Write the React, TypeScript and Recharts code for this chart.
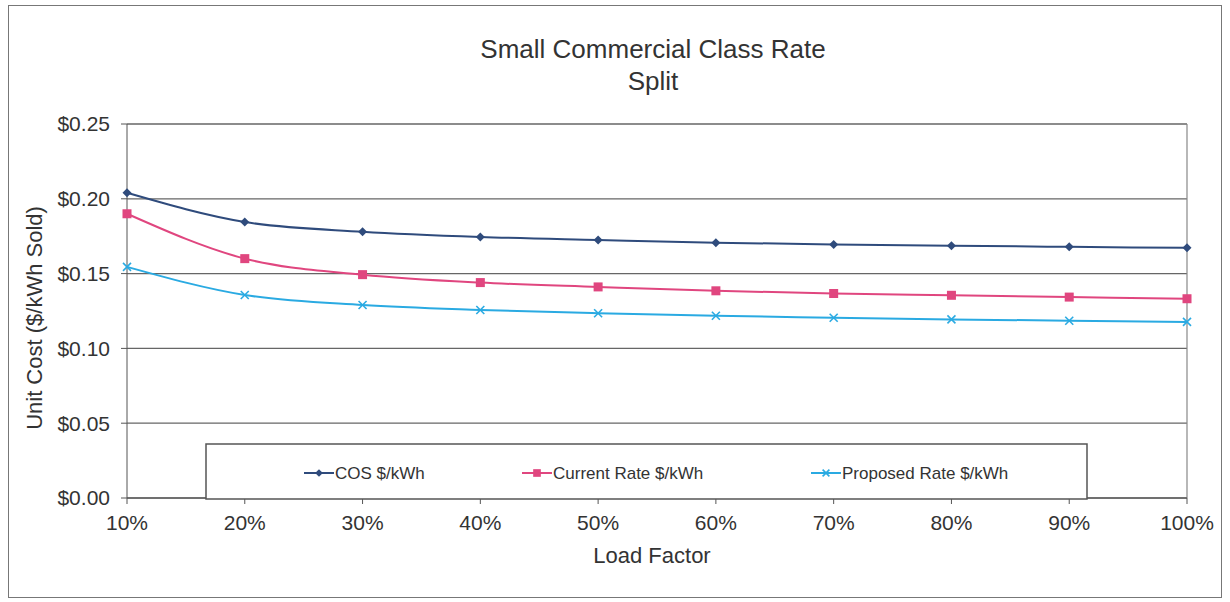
import React from "react";
import { CartesianGrid, Line, LineChart, ReferenceLine, XAxis, YAxis } from "recharts";

const loadFactors = ["10%", "20%", "30%", "40%", "50%", "60%", "70%", "80%", "90%", "100%"];
const cosRate = [0.204, 0.1845, 0.178, 0.1745, 0.1725, 0.1707, 0.1695, 0.1686, 0.1679, 0.1672];
const currentRate = [0.19, 0.16, 0.1493, 0.144, 0.1411, 0.1385, 0.1367, 0.1355, 0.1343, 0.1332];
const proposedRate = [0.1545, 0.1357, 0.129, 0.1257, 0.1235, 0.1218, 0.1205, 0.1194, 0.1185, 0.1177];
const yTicks = [0, 0.05, 0.1, 0.15, 0.2, 0.25];

const data = loadFactors.map((lf, i) => ({
  lf,
  cos: cosRate[i],
  current: currentRate[i],
  proposed: proposedRate[i],
}));

const FONT = "'Liberation Sans', Arial, sans-serif";
const TEXT = "#333";

type Marker = "diamond" | "square" | "cross";

const series: { key: string; name: string; color: string; marker: Marker }[] = [
  { key: "cos", name: "COS $/kWh", color: "#2f4b7c", marker: "diamond" },
  { key: "current", name: "Current Rate $/kWh", color: "#e0467f", marker: "square" },
  { key: "proposed", name: "Proposed Rate $/kWh", color: "#2aaae2", marker: "cross" },
];

function markerShape(marker: Marker, color: string, cx: number, cy: number, s = 1) {
  if (marker === "diamond") {
    const r = 4.5 * s;
    return <polygon points={`${cx},${cy - r} ${cx + r},${cy} ${cx},${cy + r} ${cx - r},${cy}`} fill={color} />;
  }
  if (marker === "square") {
    const r = 4.5 * s;
    return <rect x={cx - r} y={cy - r} width={r * 2} height={r * 2} fill={color} />;
  }
  const r = 4 * s;
  return (
    <g stroke={color} strokeWidth={1.6}>
      <line x1={cx - r} y1={cy - r} x2={cx + r} y2={cy + r} />
      <line x1={cx - r} y1={cy + r} x2={cx + r} y2={cy - r} />
    </g>
  );
}

const makeDot = (marker: Marker, color: string) => (props: any) => {
  const { cx, cy, index } = props;
  if (cx == null || cy == null) return <g key={index} />;
  return <g key={index}>{markerShape(marker, color, cx, cy)}</g>;
};

// legend sample positions, relative to the legend box
const legendSlots = [99, 317, 606];

function LegendBox() {
  return (
    <svg width={884} height={58} style={{ position: "absolute", left: 205, top: 443, display: "block" }}>
      <rect x={1} y={1} width={881} height={55} fill="#fff" stroke="#555" strokeWidth={1.5} />
      {series.map((s, i) => {
        const x = legendSlots[i];
        return (
          <g key={s.key}>
            <line x1={x} y1={30} x2={x + 30} y2={30} stroke={s.color} strokeWidth={2} />
            {markerShape(s.marker, s.color, x + 15, 30, 0.85)}
            <text x={x + 31} y={36} fontFamily={FONT} fontSize={17} fill={TEXT}>
              {s.name}
            </text>
          </g>
        );
      })}
    </svg>
  );
}

export default function App() {
  return (
    <div style={{ position: "absolute", left: 0, top: 0, width: 1230, height: 602, background: "#fff", fontFamily: FONT }}>
      <div
        style={{
          position: "absolute",
          left: 8,
          top: 5,
          width: 1212,
          height: 591,
          border: "1.5px solid #777",
        }}
      />
      <div style={{ position: "absolute", left: 0, top: 33, width: 1306, textAlign: "center", fontSize: 26, lineHeight: "32px", color: TEXT }}>
        Small Commercial Class Rate
        <br />
        Split
      </div>
      <LineChart
        width={1230}
        height={602}
        data={data}
        margin={{ top: 124, right: 43, bottom: 74, left: 27 }}
        style={{ position: "absolute", left: 0, top: 0 }}
      >
        <CartesianGrid vertical={false} stroke="#666" strokeWidth={1.3} />
        <XAxis
          dataKey="lf"
          height={30}
          padding={{ left: 0, right: 0 }}
          stroke="#555"
          tickSize={6}
          tickMargin={11}
          tick={{ fontSize: 21, fill: TEXT, fontFamily: FONT }}
        />
        <YAxis
          width={100}
          domain={[0, 0.25]}
          ticks={yTicks}
          stroke="#555"
          tickSize={6}
          tickMargin={11}
          tickFormatter={(v: number) => `$${v.toFixed(2)}`}
          tick={{ fontSize: 21, fill: TEXT, fontFamily: FONT }}
        />
        <ReferenceLine x="100%" stroke="#888" strokeWidth={1.2} />
        {series.map((s) => (
          <Line
            key={s.key}
            dataKey={s.key}
            name={s.name}
            type="monotone"
            stroke={s.color}
            strokeWidth={2}
            dot={makeDot(s.marker, s.color)}
            activeDot={false}
            isAnimationActive={false}
          />
        ))}
      </LineChart>
      <LegendBox />
      <div style={{ position: "absolute", left: 0, top: 543, width: 1304, textAlign: "center", fontSize: 22, color: TEXT }}>
        Load Factor
      </div>
      <div
        style={{
          position: "absolute",
          left: 35,
          top: 318,
          transform: "translate(-50%, -50%) rotate(-90deg)",
          whiteSpace: "nowrap",
          fontSize: 22,
          color: TEXT,
        }}
      >
        Unit Cost ($/kWh Sold)
      </div>
    </div>
  );
}
